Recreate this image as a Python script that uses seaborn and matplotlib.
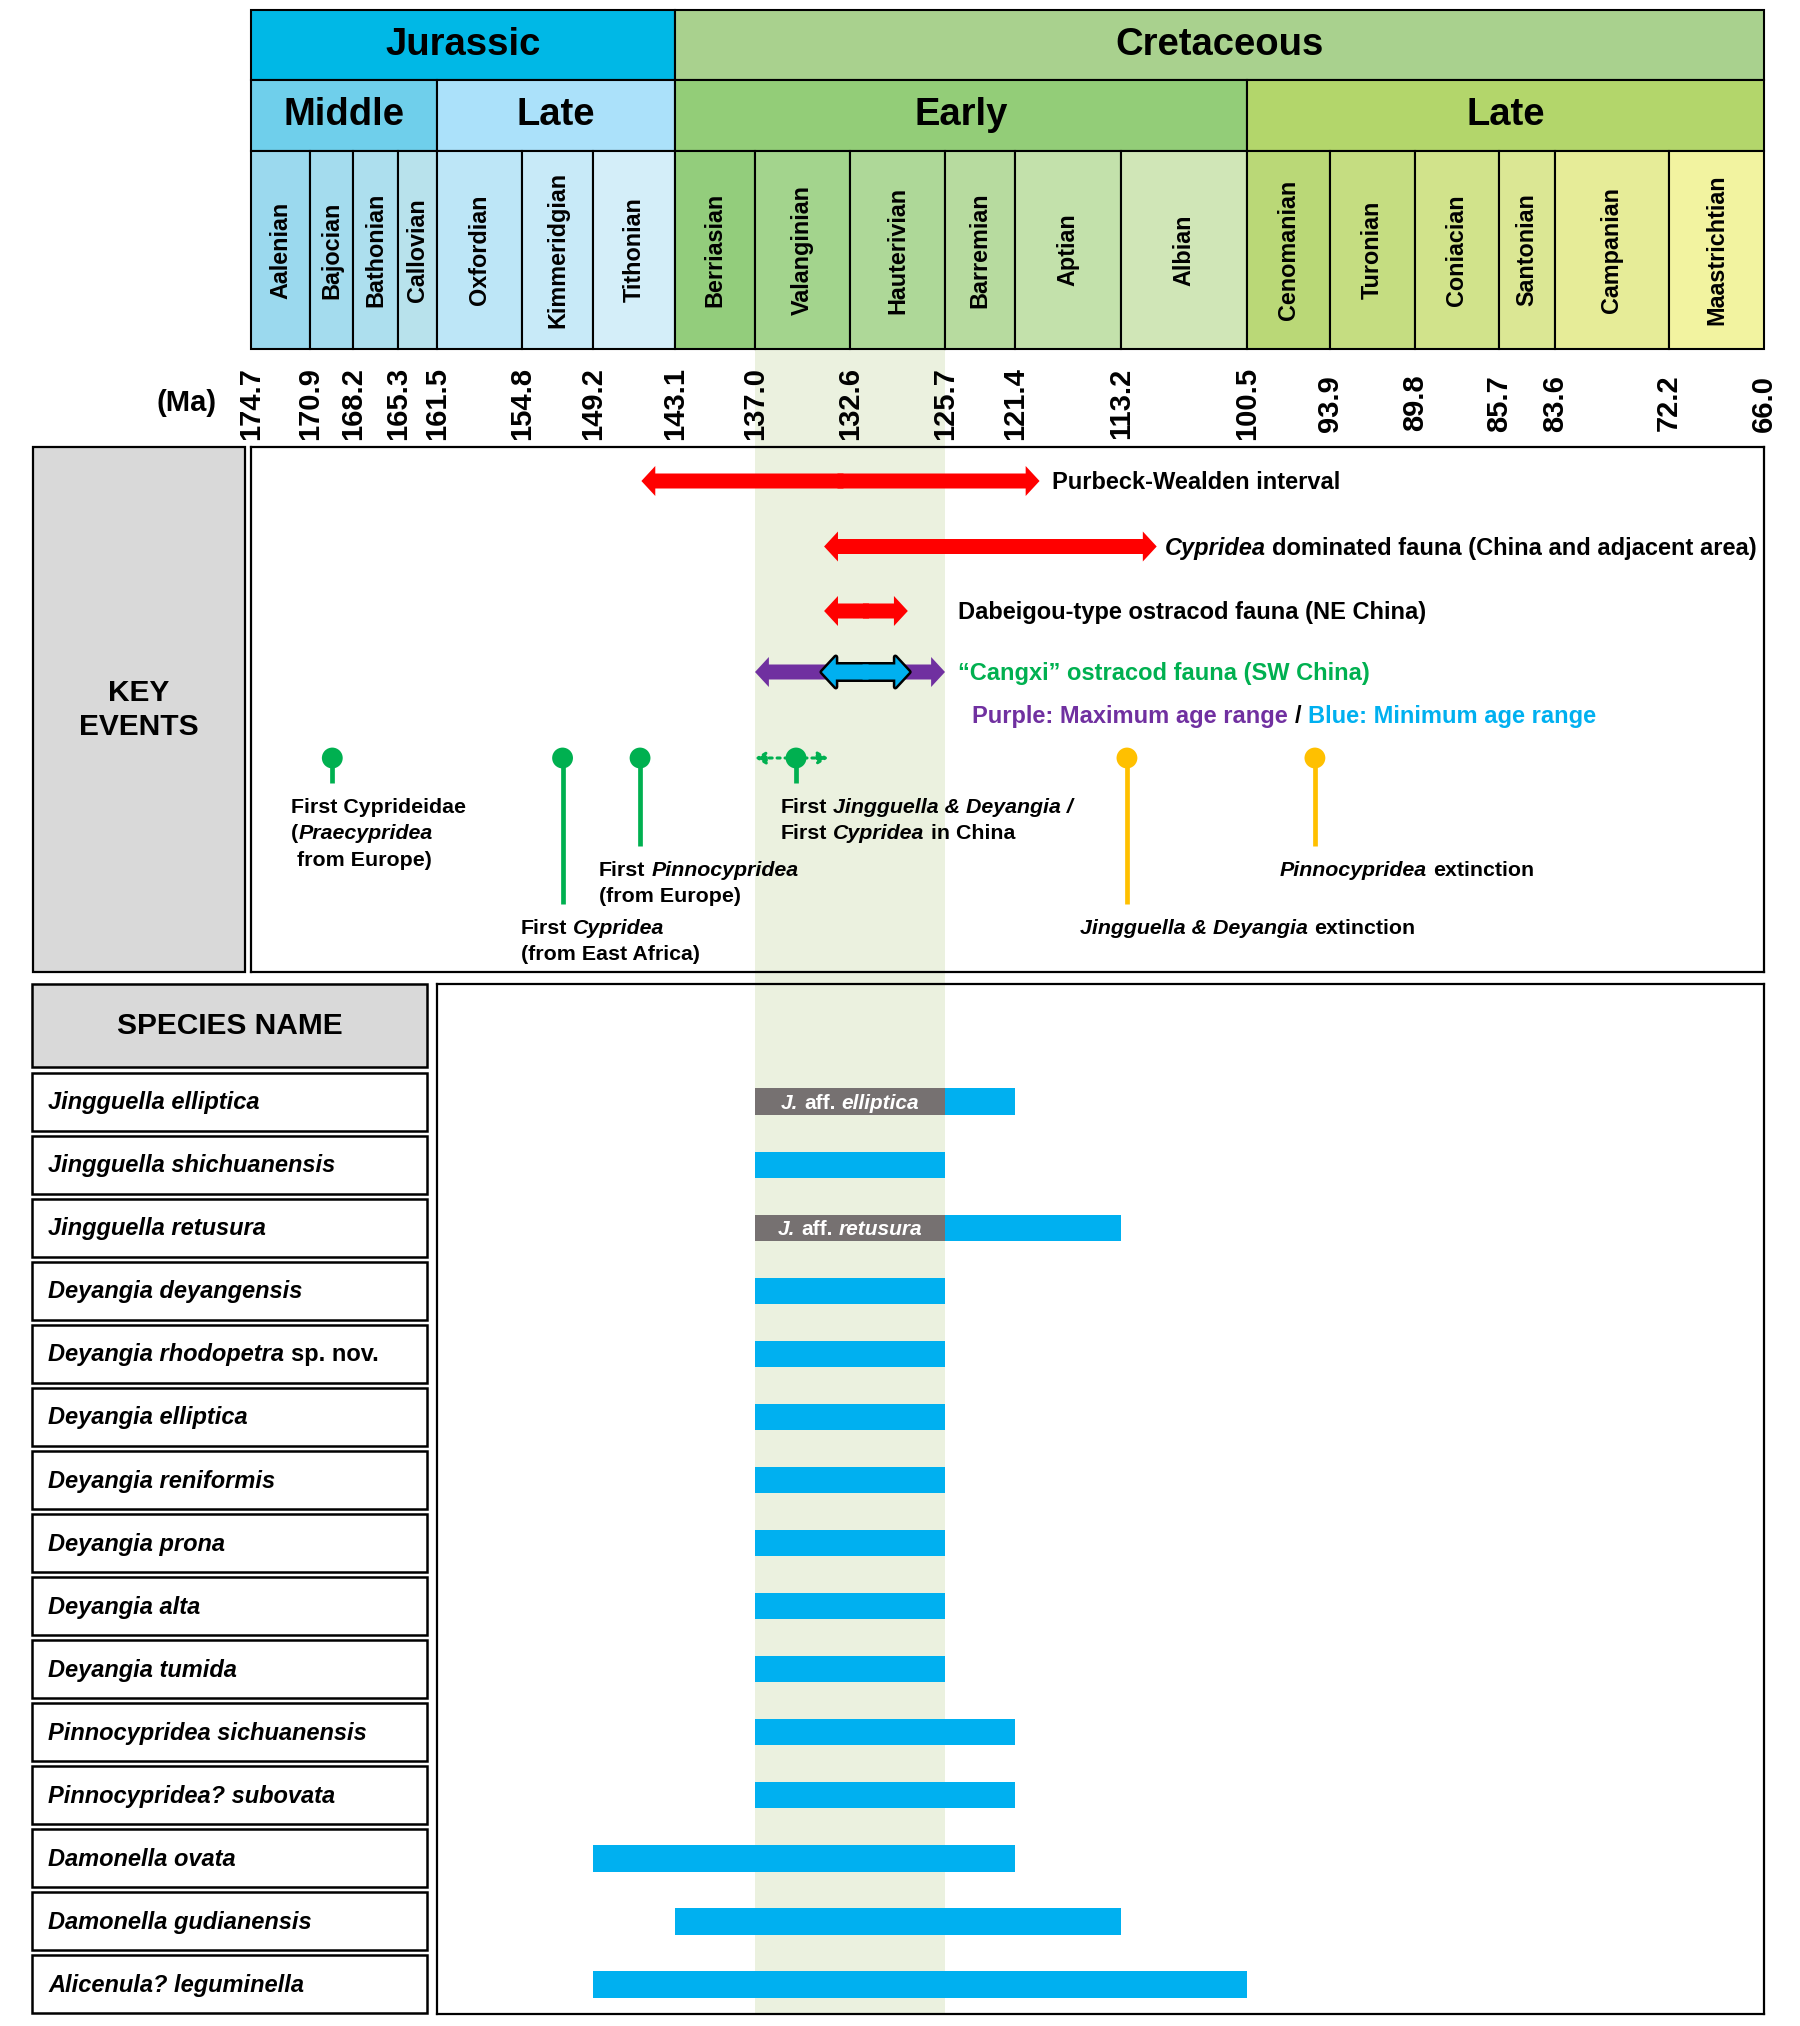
import numpy as np
import pandas as pd
import matplotlib
matplotlib.use("Agg")
import matplotlib.pyplot as plt
from matplotlib.patches import Rectangle, FancyArrowPatch, ArrowStyle
import seaborn as sns

sns.set_theme(style="white")
plt.rcParams["font.family"] = ["Liberation Sans", "DejaVu Sans"]
plt.rcParams["text.color"] = "black"
plt.rcParams["xtick.color"] = "black"
plt.rcParams["xtick.labelcolor"] = "black"

# ---------------- geological time scale (Ma) ----------------
bounds = np.array([174.7, 170.9, 168.2, 165.3, 161.5, 154.8, 149.2, 143.1, 137.0, 132.6,
                   125.7, 121.4, 113.2, 100.5, 93.9, 89.8, 85.7, 83.6, 72.2, 66.0])
# the chart's time axis is not linear: pixel position of every boundary
bound_px = np.array([251, 310, 353, 398, 437, 522, 593, 675, 755, 850,
                     945, 1015, 1121, 1247, 1330, 1415, 1499, 1555, 1669, 1764])

stages = ["Aalenian", "Bajocian", "Bathonian", "Callovian", "Oxfordian", "Kimmeridgian",
          "Tithonian", "Berriasian", "Valanginian", "Hauterivian", "Barremian", "Aptian",
          "Albian", "Cenomanian", "Turonian", "Coniacian", "Santonian", "Campanian",
          "Maastrichtian"]
stage_colors = ["#9BD9EE", "#A4DCEE", "#ADDFEE", "#B8E2EC", "#BDE6F7", "#C8EAF8", "#D4EEF9",
                "#93CD7C", "#A3D48D", "#AED898", "#B7DB9F", "#C3E1AB", "#D0E6B7",
                "#BAD877", "#C5DD81", "#D1E38B", "#DBE794", "#E6EC98", "#F2F3A0"]

periods = ["Jurassic", "Cretaceous"]
period_start = [174.7, 143.1]
period_end = [143.1, 66.0]
period_colors = ["#00B8E6", "#A9D18E"]

epochs = ["Middle", "Late", "Early", "Late"]
epoch_start = [174.7, 161.5, 143.1, 100.5]
epoch_end = [161.5, 143.1, 100.5, 66.0]
epoch_colors = ["#6FCFEB", "#ABE1FA", "#93CD78", "#B3D66B"]

band = (137.0, 125.7)

# ---------------- key events ----------------
interval_labels = [
    [("Purbeck-Wealden interval", False)],
    [("Cypridea", True), (" dominated fauna (China and adjacent area)", False)],
    [("Dabeigou-type ostracod fauna (NE China)", False)],
]
interval_start = [145.6, 133.8, 133.8]
interval_end = [119.5, 109.6, 128.4]
cangxi_max = (137.0, 125.7)
cangxi_min = (133.9, 128.3)

event_ma = [169.5, 151.6, 145.7, 135.1, 112.6, 95.1]
event_kind = ["first", "first", "first", "first", "extinction", "extinction"]
event_labels = [
    [[("First Cyprideidae", False)], [("(", False), ("Praecypridea", True)], [(" from Europe)", False)]],
    [[("First ", False), ("Cypridea", True)], [("(from East Africa)", False)]],
    [[("First ", False), ("Pinnocypridea", True)], [("(from Europe)", False)]],
    [[("First ", False), ("Jingguella & Deyangia /", True)],
     [("First ", False), ("Cypridea", True), (" in China", False)]],
    [[("Jingguella & Deyangia", True), (" extinction", False)]],
    [[("Pinnocypridea", True), (" extinction", False)]],
]
jd_range = (137.0, 133.6)

# ---------------- species ranges ----------------
species = ["Jingguella elliptica", "Jingguella shichuanensis", "Jingguella retusura",
           "Deyangia deyangensis", "Deyangia rhodopetra", "Deyangia elliptica",
           "Deyangia reniformis", "Deyangia prona", "Deyangia alta", "Deyangia tumida",
           "Pinnocypridea sichuanensis", "Pinnocypridea? subovata", "Damonella ovata",
           "Damonella gudianensis", "Alicenula? leguminella"]
species_suffix = ["", "", "", "", " sp. nov.", "", "", "", "", "", "", "", "", "", ""]
range_start = np.array([125.7, 137.0, 125.7, 137.0, 137.0, 137.0, 137.0, 137.0, 137.0, 137.0,
                        137.0, 137.0, 149.2, 143.1, 149.2])
range_end = np.array([121.4, 125.7, 113.2, 125.7, 125.7, 125.7, 125.7, 125.7, 125.7, 125.7,
                      121.4, 121.4, 121.4, 113.2, 100.5])
aff_start = np.array([137.0, np.nan, 137.0] + [np.nan] * 12)
aff_end = np.array([125.7, np.nan, 125.7] + [np.nan] * 12)
aff_labels = [[("J.", True), (" aff. ", False), ("elliptica", True)], None,
              [("J.", True), (" aff. ", False), ("retusura", True)]] + [None] * 12

RED, PURPLE, BLUE, GRAY = "#FF0000", "#7030A0", "#00B0F0", "#767171"
GREEN, YELLOW, BAND = "#00B050", "#FFC000", "#EBF1DF"

W, H = 1800, 2026
fig = plt.figure(figsize=(W / 100, H / 100), dpi=100)
rend = fig.canvas.get_renderer()


def ma_to_px(v):
    return np.interp(v, bounds[::-1], bound_px[::-1])


def px_to_ma(p):
    return np.interp(p, bound_px, bounds)


# increasing scale (negative pixels) so that old ages sit on the left
def fwd(v):
    return -ma_to_px(v)


def inv(p):
    return px_to_ma(-p)


def mid_ma(a, b):
    return px_to_ma((ma_to_px(a) + ma_to_px(b)) / 2)


def add_ax(x0, y0, x1, y1, z, timescale=True):
    ax = fig.add_axes([x0 / W, 1 - y1 / H, (x1 - x0) / W, (y1 - y0) / H], zorder=z)
    ax.set_facecolor("none")
    if timescale:
        ax.set_xscale("function", functions=(fwd, inv))
        ax.set_xlim(px_to_ma(x0), px_to_ma(x1))
    return ax


def rich(ax, xy, lines, size, dx=0, dy=0, pitch=None, ha="left", color="black"):
    """mixed italic / upright bold text; offsets in pixels, dy is the first baseline"""
    em = size / 0.72
    pitch = pitch or em * 1.2
    for i, parts in enumerate(lines):
        items, x = [], 0.0
        for part in parts:
            s, italic = part[0], part[1]
            c = part[2] if len(part) > 2 else color
            x += (len(s) - len(s.lstrip(" "))) * 0.278 * em
            t = ax.annotate(s.strip(" "), xy, xytext=(0, 0), textcoords="offset points",
                            fontsize=size, fontweight="bold", color=c,
                            fontstyle="italic" if italic else "normal",
                            ha="left", va="baseline", annotation_clip=False, zorder=6)
            items.append((t, x))
            x += t.get_window_extent(rend).width + (len(s) - len(s.rstrip(" "))) * 0.278 * em
        shift = -x / 2 if ha == "center" else 0
        for t, x0 in items:
            t.set_position(((dx + x0 + shift) * 0.72, -(dy + i * pitch) * 0.72))


# background layer in pixel units for the left-hand label boxes
ax_bg = fig.add_axes([0, 0, 1, 1], zorder=0)
ax_bg.set_xlim(0, W)
ax_bg.set_ylim(H, 0)
ax_bg.axis("off")

# highlighted interval band
ax_band = add_ax(251, 349, 1764, 2014, 1)
ax_band.axvspan(*band, color=BAND, lw=0)
ax_band.axis("off")

# ---- time scale ----
ax_ts = add_ax(251, 10, 1764, 349, 2)
ax_ts.set_ylim(349, 10)
row_top = [10, 80, 151]
row_bot = [80, 151, 349]
for r, (st, en, cols) in enumerate([(period_start, period_end, period_colors),
                                    (epoch_start, epoch_end, epoch_colors),
                                    (bounds[:-1], bounds[1:], stage_colors)]):
    ax_ts.barh((row_top[r] + row_bot[r]) / 2, np.array(en) - np.array(st), left=st,
               height=row_bot[r] - row_top[r], color=cols, edgecolor="black",
               linewidth=1.5, clip_on=False)
for name, a, b in zip(periods, period_start, period_end):
    ax_ts.text(mid_ma(a, b), 45, name, ha="center", va="center",
               fontsize=27.5, fontweight="bold")
for name, a, b in zip(epochs, epoch_start, epoch_end):
    ax_ts.text(mid_ma(a, b), 115, name, ha="center", va="center",
               fontsize=27.5, fontweight="bold")
for name, a, b in zip(stages, bounds[:-1], bounds[1:]):
    ax_ts.text(mid_ma(a, b), 250, name, ha="center", va="center",
               rotation=90, fontsize=16.8, fontweight="bold")
ax_ts.set_xticks(bounds)
ax_ts.set_xticklabels([f"{b:.1f}" for b in bounds], rotation=90, fontsize=21,
                      fontweight="bold")
for lbl in ax_ts.get_xticklabels():
    lbl.set_va("center")
ax_ts.tick_params(axis="x", length=0, pad=39)
ax_ts.set_yticks([])
for s in ax_ts.spines.values():
    s.set_visible(False)
ax_bg.text(187, 403, "(Ma)", ha="center", va="center", fontsize=21, fontweight="bold")

# ---- key events ----
ax_bg.add_patch(Rectangle((33, 447), 212, 525, fc="#D9D9D9", ec="black", lw=1.6))
ax_bg.text(139, 710, "KEY\nEVENTS", ha="center", va="center", fontsize=21.5,
           fontweight="bold", linespacing=1.3)

ax_ev = add_ax(251, 447, 1764, 972, 3)
ax_ev.set_ylim(972, 447)
ax_ev.set_xticks([])
ax_ev.set_yticks([])
for s in ax_ev.spines.values():
    s.set_color("black")
    s.set_linewidth(1.6)

arrow_y = [481, 546.5, 611, 672]
label_dx = [12, 8, 50]


def double_arrow(ax, a, b, y, fc, ec=None):
    # two single-headed halves that overlap a little in the middle
    pm = (ma_to_px(a) + ma_to_px(b)) / 2
    starts = {a: px_to_ma(pm + 3), b: px_to_ma(pm - 3)}
    style = ArrowStyle.Simple(head_length=10, head_width=21.6, tail_width=10.8)
    if ec is not None:
        for end in (a, b):
            ax.add_patch(FancyArrowPatch((starts[end], y), (end, y), arrowstyle=style,
                                         mutation_scale=1, shrinkA=0, shrinkB=0,
                                         fc=ec, ec=ec, lw=3.6, zorder=4))
    for end in (a, b):
        ax.add_patch(FancyArrowPatch((starts[end], y), (end, y), arrowstyle=style,
                                     mutation_scale=1, shrinkA=0, shrinkB=0,
                                     fc=fc, lw=0, zorder=4))


for i, (a, b) in enumerate(zip(interval_start, interval_end)):
    double_arrow(ax_ev, a, b, arrow_y[i], RED)
    rich(ax_ev, (b, arrow_y[i]), [interval_labels[i]], 17, dx=label_dx[i], dy=8.5)

double_arrow(ax_ev, *cangxi_max, arrow_y[3], PURPLE)
double_arrow(ax_ev, *cangxi_min, arrow_y[3], BLUE, ec="black")
rich(ax_ev, (cangxi_max[1], arrow_y[3]), [[("\u201cCangxi\u201d ostracod fauna (SW China)", False)]],
     17, dx=13, dy=8.5, color=GREEN)
rich(ax_ev, (cangxi_max[1], 714.5),
     [[("Purple: Maximum age range", False, PURPLE), (" / ", False, "black"),
       ("Blue: Minimum age range", False, BLUE)]], 17, dx=27, dy=8.4)

# lollipops
dot_y = 758
stem_end = [783, 904, 846, 783, 904, 846]
ev_dx = [-41, -42, -41, -15, -47, -35]
ev_df = pd.DataFrame({"ma": event_ma, "y": dot_y, "kind": event_kind})
pal = {"first": GREEN, "extinction": YELLOW}
ax_ev.vlines(event_ma, dot_y, stem_end, colors=[pal[k] for k in event_kind], lw=3.4, zorder=3)
for tip in jd_range:
    ax_ev.add_patch(FancyArrowPatch((event_ma[3], dot_y), (tip, dot_y),
                                    arrowstyle=ArrowStyle("-|>", head_length=6, head_width=3.6),
                                    mutation_scale=1, shrinkA=0, shrinkB=0, color=GREEN,
                                    lw=2.2, linestyle=(0, (1, 1.6)), zorder=3))
sns.scatterplot(data=ev_df, x="ma", y="y", hue="kind", palette=pal, s=225, linewidth=0,
                legend=False, ax=ax_ev, zorder=5)
ax_ev.set_xlabel("")
ax_ev.set_ylabel("")
ax_ev.set_xlim(px_to_ma(251), px_to_ma(1764))
ax_ev.set_ylim(972, 447)
for i, lines in enumerate(event_labels):
    rich(ax_ev, (event_ma[i], stem_end[i]), lines, 15.4, dx=ev_dx[i], dy=30, pitch=26.5)

# ---- species ----
row0, pitch = 1101.7, 63.05
ax_bg.add_patch(Rectangle((32, 984), 395, 83, fc="#D9D9D9", ec="black", lw=1.8))
ax_bg.text(229.5, 1026, "SPECIES NAME", ha="center", va="center", fontsize=21.5,
           fontweight="bold")
for i, name in enumerate(species):
    yc = row0 + pitch * i
    ax_bg.add_patch(Rectangle((32, yc - 29), 395, 58, fc="white", ec="black", lw=1.8))
    rich(ax_bg, (48, yc), [[(name, True), (species_suffix[i], False)]], 17, dy=7.5)

ax_sp = add_ax(437, 984, 1764, 2014, 3)
ax_sp.set_ylim((2014 - row0) / pitch, (984 - row0) / pitch)
yy = np.arange(len(species))
ax_sp.barh(yy, range_end - range_start, left=range_start, height=0.42, color=BLUE, lw=0)
has_aff = ~np.isnan(aff_start)
ax_sp.barh(yy[has_aff], (aff_end - aff_start)[has_aff], left=aff_start[has_aff],
           height=0.42, color=GRAY, lw=0)
for i in yy[has_aff]:
    rich(ax_sp, (mid_ma(aff_start[i], aff_end[i]), i), [aff_labels[i]], 15, dy=7.3,
         ha="center", color="white")
ax_sp.set_xticks([])
ax_sp.set_yticks([])
for s in ax_sp.spines.values():
    s.set_color("black")
    s.set_linewidth(1.6)

fig.savefig("out.png", dpi=100)
